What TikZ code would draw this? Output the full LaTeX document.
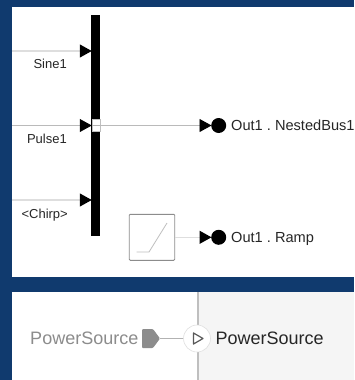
\documentclass[tikz,border=0pt]{standalone}
\usepackage{fontspec}
\setmainfont{Liberation Sans}
\usetikzlibrary{arrows.meta}
\definecolor{navy}{HTML}{103A6E}
\definecolor{inkc}{HTML}{262626}
\definecolor{portc}{HTML}{8C8C8C}
\tikzset{
  lbl/.style={inner sep=0pt,text=inkc,font=\fontsize{13}{15}\selectfont},
  outlbl/.style={inner sep=0pt,anchor=mid west,text=inkc,font=\fontsize{14.6}{17}\selectfont},
  powlbl/.style={inner sep=0pt,anchor=mid west,font=\fontsize{18}{20}\selectfont},
  sigline/.style={draw=black!13,line width=1.2pt},
  busline/.style={draw=black!27,line width=0.8pt},
  tip/.style={-{Triangle[length=12pt,width=13pt,black]},shorten >=-0.5pt},
  outport/.style={circle,fill=black,inner sep=0pt,minimum size=15pt}
}
\frenchspacing
\begin{document}
\begin{tikzpicture}[x=1pt,y=-1pt]
\useasboundingbox (0,0) rectangle (354,380);
\fill[navy] (0,0) rectangle (354,380);
\fill[white] (12,7) rectangle (354,277);
\fill[white] (12,292) rectangle (354,380);
\fill[black!4] (198,292) rectangle (354,380);
\draw[black!25,line width=1.2pt] (198,292) -- (198,380);

% bus block
\node (bus) at (95.7,125.5) [fill=black,inner sep=0pt,minimum width=8.5pt,minimum height=221pt] {};
\node (busport) at (95.7,125.5) [fill=white,draw=black!25,line width=0.3pt,inner sep=0pt,minimum width=8pt,minimum height=12pt] {};
\draw[black!30,line width=0.3pt] (busport.west) -- (busport.east);

\coordinate (sinein) at (12,51);
\coordinate (pulsein) at (12,125.5);
\coordinate (chirpin) at (12,200);
\node (outbus) at (218.7,125.5) [outport] {};
\node (outramp) at (218.7,237.3) [outport] {};
\node (ramp) at (152,237.3) [draw=black!45,fill=white,line width=0.9pt,rounded corners=1pt,inner sep=0pt,minimum width=45.5pt,minimum height=46pt] {};

\draw [sigline,tip] (sinein) -- (bus.west |- sinein);
\draw [busline,tip] (pulsein) -- (bus.west |- pulsein);
\draw [sigline,tip] (chirpin) -- (bus.west |- chirpin);
\draw [busline,tip] (busport.east) -- (outbus.west);
\draw [sigline,tip] (ramp.east) -- (outramp.west);

\draw[black!25,line width=0.8pt] (136.5,252) -- (149,252) -- (167,223);

\node[lbl,anchor=mid east] (sinelbl) at (67,66) {Sine1};
\node[lbl,anchor=mid east] (pulselbl) at (67,140.5) {Pulse1};
\node[lbl,anchor=mid east] (chirplbl) at (68,215.5) {<Chirp>};
\node[outlbl] (buslbl) at (231,128) {Out1 . NestedBus1};
\node[outlbl] (ramplbl) at (231,240) {Out1 . Ramp};

% lower panel
\node[powlbl,text=portc,anchor=mid east] (srclbl) at (138.5,341.5) {PowerSource};
\fill[portc,rounded corners=1pt] (142,329) -- (153,329) -- (160,338.5) -- (153,348) -- (142,348) -- cycle;
\coordinate (srcout) at (160,338.5);
\node (inport) at (197,338.5) [circle,fill=white,draw=black!12,line width=0.6pt,inner sep=0pt,minimum size=27pt] {};
\draw[black!30,line width=0.8pt] (srcout) -- (inport.west);
\draw[black!65,line width=1.2pt,line join=round] (193.5,333) -- (203,338.5) -- (193.5,344) -- cycle;
\node[powlbl,text=inkc] (dstlbl) at (215.5,341.5) {PowerSource};
\end{tikzpicture}
\end{document}
